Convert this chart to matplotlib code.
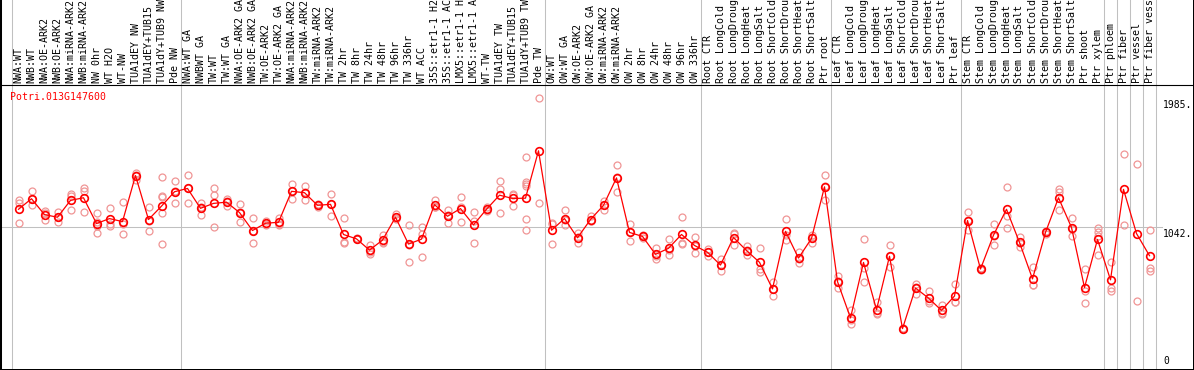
import numpy as np
import matplotlib
matplotlib.use("Agg")
import matplotlib.pyplot as plt

# --- data ---
gene = "Potri.013G147600"

labels = [
    "NWA:WT", "NWB:WT", "NWA:OE-ARK2", "NWB:OE-ARK2", "NWA:miRNA-ARK2", "NWB:miRNA-ARK2",
    "NW 0hr", "WT H2O", "WT-NW", "TUA1dEY NW", "TUA1dEY+TUB15", "TUA1dY+TUB9 NW", "Pde NW",
    "NWA:WT GA", "NWBWT GA", "TW:WT", "TW:WT GA", "NWA:OE-ARK2 GA", "NWB:OE-ARK2 GA",
    "TW:OE-ARK2", "TW:OE-ARK2 GA", "NWA:miRNA-ARK2", "NWB:miRNA-ARK2", "TW:miRNA-ARK2",
    "TW:miRNA-ARK2", "TW 2hr", "TW 8hr", "TW 24hr", "TW 48hr", "TW 96hr", "TW 336hr",
    "WT ACC", "35S::etr1-1 H2", "35S::etr1-1 AC", "LMX5::etr1-1 H", "LMX5::etr1-1 A",
    "WT-TW", "TUA1dEY TW", "TUA1dEY+TUB15", "TUA1dY+TUB9 TW", "Pde TW",
    "OW:WT", "OW:WT GA", "OW:OE-ARK2", "OW:OE-ARK2 GA", "OW:miRNA-ARK2", "OW:miRNA-ARK2",
    "OW 2hr", "OW 8hr", "OW 24hr", "OW 48hr", "OW 96hr", "OW 336hr",
    "Root CTR", "Root LongCold", "Root LongDroug", "Root LongHeat", "Root LongSalt",
    "Root ShortCold", "Root ShortDrou", "Root ShortHeat", "Root ShortSalt", "Ptr root",
    "Leaf CTR", "Leaf LongCold", "Leaf LongDroug", "Leaf LongHeat", "Leaf LongSalt",
    "Leaf ShortCold", "Leaf ShortDrou", "Leaf ShortHeat", "Leaf ShortSalt", "Ptr leaf",
    "Stem CTR", "Stem LongCold", "Stem LongDroug", "Stem LongHeat", "Stem LongSalt",
    "Stem ShortCold", "Stem ShortDrou", "Stem ShortHeat", "Stem ShortSalt", "Ptr shoot",
    "Ptr xylem", "Ptr phloem", "Ptr fiber", "Ptr vessel", "Ptr fiber vess",
]

# samples per block (gray separators between blocks)
group_sizes = [13, 28, 12, 10, 10, 11, 1, 1, 1, 1]

means = [
    1173, 1250, 1134, 1115, 1238, 1257, 1069, 1105, 1083, 1419, 1098, 1196, 1301,
    1325, 1180, 1216, 1225, 1149, 1018, 1071, 1078, 1304, 1294, 1202, 1209, 989,
    957, 875, 948, 1115, 919, 955, 1207, 1122, 1178, 1059, 1173, 1276, 1252, 1254, 1600,
    1020, 1105, 965, 1098, 1202, 1402, 1004, 975, 844, 888, 989, 909,
    859, 766, 967, 872, 786, 592, 1012, 817, 960, 1337,
    645, 380, 785, 440, 830, 302, 598, 525, 435, 540,
    1091, 737, 984, 1173, 931, 665, 1004, 1257, 1040, 602, 953, 658,
    1318, 996, 834,
]

replicates = [
    [1238, 1216, 1071], [1303, 1245, 1202], [1158, 1144, 1095], [1151, 1115, 1078],
    [1281, 1270, 1165], [1325, 1305, 1151], [1144, 1080, 1052, 1001], [1180, 1064, 1051],
    [1223, 1064, 989], [1441, 1426, 1390], [1187, 1090, 1018], [1405, 1270, 1260, 1144, 919],
    [1383, 1303, 1221],
    [1424, 1330, 1221], [1221, 1188, 1131], [1330, 1279, 1042], [1250, 1230, 1200],
    [1214, 1150, 1083], [1112, 1018, 924], [1088, 1066, 1057], [1112, 1064, 1057],
    [1361, 1303, 1250], [1341, 1300, 1240], [1209, 1205, 1192], [1286, 1214, 1127],
    [1107, 935, 926], [964, 957, 953], [914, 859, 844], [984, 935, 926],
    [1138, 1107, 1100], [1057, 912, 788], [1044, 996, 822], [1240, 1192, 1190],
    [1165, 1130, 1071], [1260, 1190, 1083], [1156, 1088, 926], [1192, 1165, 1158],
    [1376, 1318, 1149], [1281, 1276, 1199], [1555, 1373, 1355, 1341, 1100, 1020],
    [1985, 1216],
    [1071, 1069, 919], [1165, 1093, 1057], [998, 972, 924], [1124, 1085, 1085],
    [1233, 1205, 1167], [1499, 1405, 1301], [1066, 1004, 943], [986, 975, 964],
    [890, 830, 812], [953, 873, 839], [1115, 926, 921], [970, 906, 851],
    [882, 859, 834], [810, 766, 725], [998, 990, 911], [902, 876, 839],
    [890, 737, 718], [645, 592, 540], [1105, 982, 950], [863, 809, 779],
    [986, 970, 925], [1426, 1342, 1243],
    [685, 652, 598], [435, 366, 339], [955, 743, 645], [496, 413, 411],
    [911, 829, 750], [305, 302, 300], [629, 609, 556], [580, 506, 489],
    [476, 418, 411], [627, 497, 496],
    [1156, 1095, 1022], [745, 742, 730], [1064, 977, 911], [1337, 1124, 1040],
    [972, 926, 895], [750, 624, 621], [1015, 1006, 991], [1318, 1296, 1165],
    [1112, 1030, 979], [737, 578, 491], [1033, 1004, 979, 841], [786, 598, 580],
    [1576, 1057], [1506, 500], [1020, 743, 725],
]

y_ticks = [0, 1042, 1985]
y_ticklabels = ["0", "1042.", "1985."]

# --- layout (pixels of the 1194x370 picture) ---
W, H = 1194, 370
x0, step = 12, 13          # left edge of first sample, width of one sample
header = 85                # height of the label strip on top
ytop = 2080                # value at the header line

mono = "DejaVu Sans Mono"
grid = "#c0c0c0"
pink = "#f09595"

fig = plt.figure(figsize=(W / 100, H / 100), dpi=100)
ax = fig.add_axes([0, 0, 1, 1])
ax.set_xlim(-x0 / step, (W - x0) / step)
ax.set_ylim(0, ytop * H / (H - header))
ax.set_xticks([])
ax.set_yticks([])
ax.spines["top"].set_visible(False)
ax.spines["left"].set_linewidth(2.9)
ax.spines["right"].set_linewidth(1.44)
ax.spines["bottom"].set_linewidth(1.44)

x = np.arange(len(labels)) + 0.5

# block separators and the middle reference line
edges = np.concatenate([[0], np.cumsum(group_sizes)])
for e in edges:
    ax.axvline(e, color=grid, lw=0.75, zorder=0)
ax.axhline(y_ticks[1], xmin=2 / W, xmax=1162 / W, color=grid, lw=0.75, zorder=0)
ax.axhline(ytop, color="black", lw=0.8, zorder=1)

# replicates, then mean line
for xi, reps in zip(x, replicates):
    ax.plot([xi] * len(reps), reps, "o", ms=5, mfc="none", mec=pink, mew=0.9, zorder=2)
ax.plot(x, means, "-", color="red", lw=0.9, zorder=3)
ax.plot(x, means, "o", ms=5.5, mfc="none", mec="red", mew=1.2, zorder=4)

# sample labels in the header strip
for xi, lbl in zip(x, labels):
    ax.annotate(lbl, (xi, ytop), xytext=(0, 2), textcoords="offset pixels",
                rotation=90, ha="center", va="bottom", fontsize=7.2,
                family=mono, annotation_clip=False)

ax.annotate(gene, (0, ytop), xytext=(-2, -7), textcoords="offset pixels",
            ha="left", va="top", color="red", fontsize=7.1, family=mono)

# value labels on the right
for v, txt in zip(y_ticks, y_ticklabels):
    if v == 0:
        ax.annotate(txt, (len(labels), v), xytext=(7, 4), textcoords="offset pixels",
                    ha="left", va="bottom", fontsize=7, family=mono)
    else:
        ax.annotate(txt, (len(labels), v), xytext=(7, -2), textcoords="offset pixels",
                    ha="left", va="top", fontsize=7, family=mono)

fig.savefig("out.png", dpi=100)
